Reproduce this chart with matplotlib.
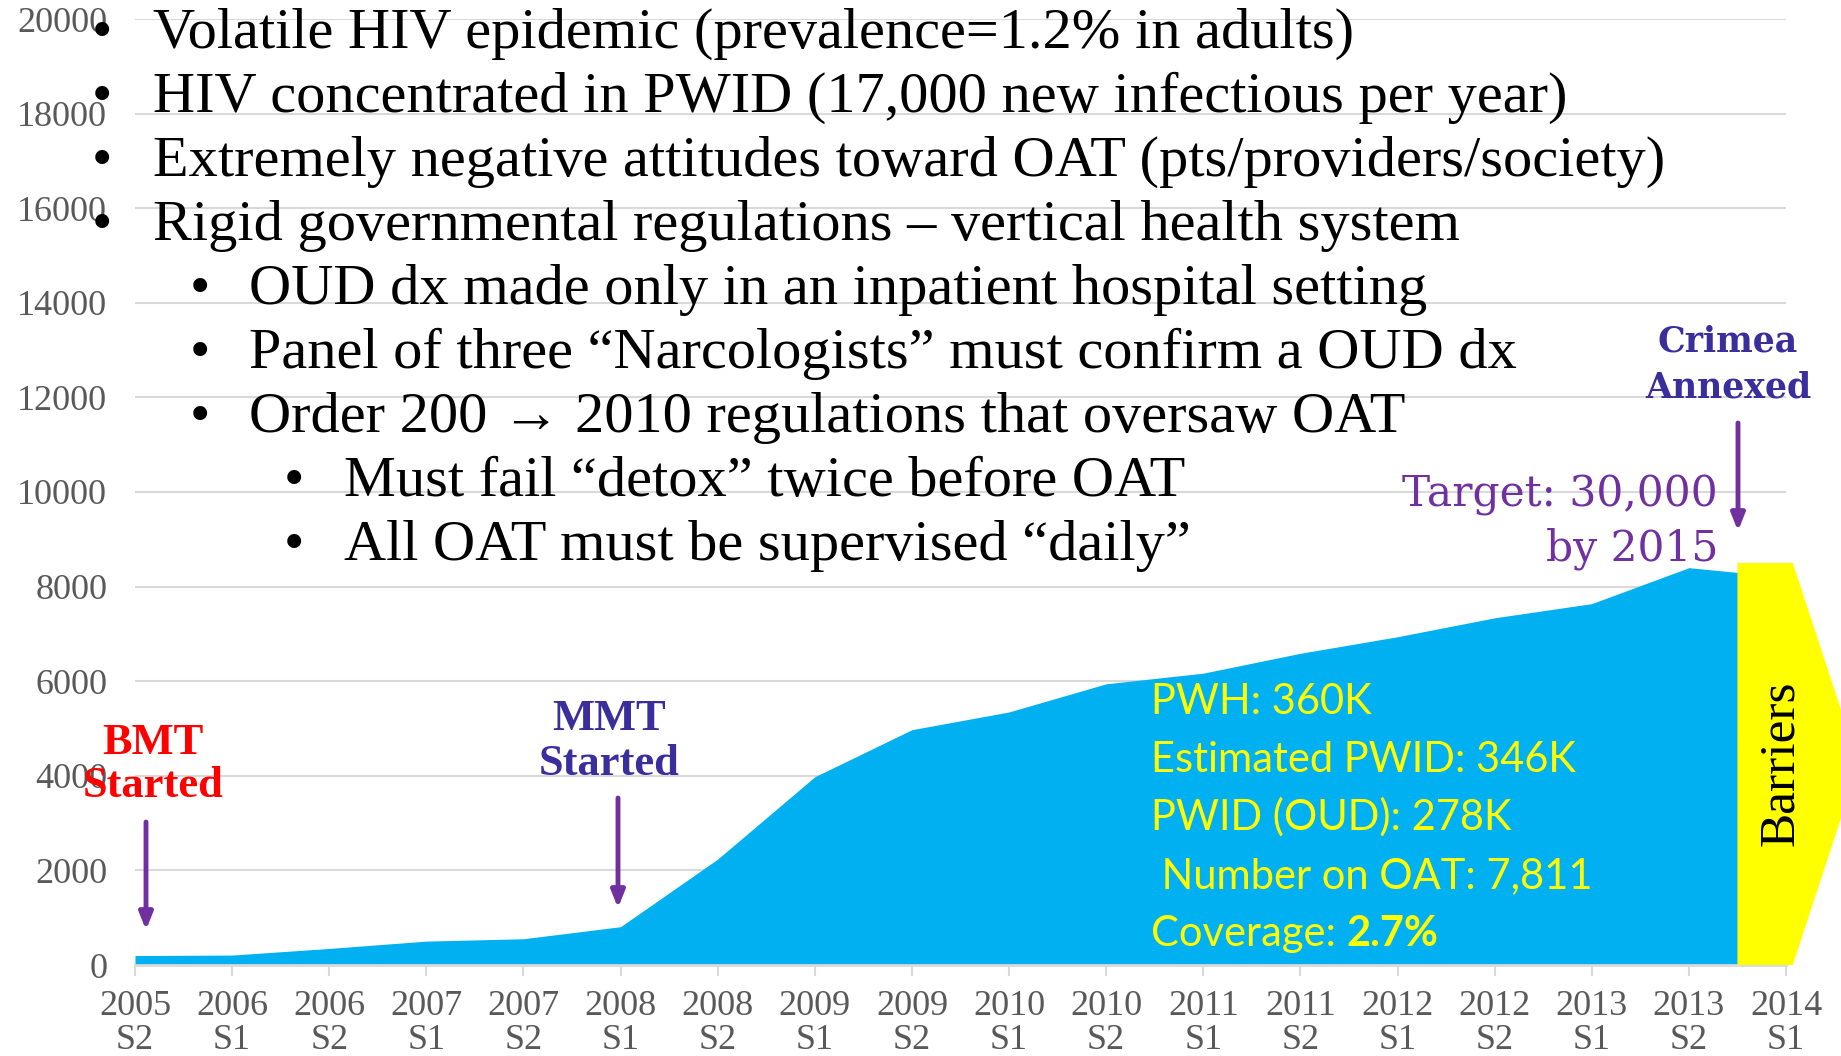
import numpy as np
import matplotlib
matplotlib.use("Agg")
import matplotlib.pyplot as plt

# number of patients on OAT, half-yearly
years = ["2005", "2006", "2006", "2007", "2007", "2008", "2008", "2009", "2009",
         "2010", "2010", "2011", "2011", "2012", "2012", "2013", "2013", "2014"]
halves = ["S2", "S1", "S2", "S1", "S2", "S1", "S2", "S1", "S2",
          "S1", "S2", "S1", "S2", "S1", "S2", "S1", "S2", "S1"]
num_on_oat = [200, 210, 350, 505, 555, 810, 2240, 3980, 4975,
              5350, 5945, 6170, 6590, 6940, 7340, 7640, 8400, 8200]

bullets = [
    (0, "Volatile HIV epidemic (prevalence=1.2% in adults)"),
    (0, "HIV concentrated in PWID (17,000 new infectious per year)"),
    (0, "Extremely negative attitudes toward OAT (pts/providers/society)"),
    (0, "Rigid governmental regulations \u2013 vertical health system"),
    (1, "OUD dx made only in an inpatient hospital setting"),
    (1, "Panel of three \u201cNarcologists\u201d must confirm a OUD dx"),
    (1, "Order 200 \u2192 2010 regulations that oversaw OAT"),
    (2, "Must fail \u201cdetox\u201d twice before OAT"),
    (2, "All OAT must be supervised \u201cdaily\u201d"),
]
stats = ["PWH: 360K", "Estimated PWID: 346K", "PWID (OUD): 278K",
         " Number on OAT: 7,811"]

W, H = 1841, 1056
SERIF = ["Liberation Serif", "DejaVu Serif"]
PURPLE = "#7030A0"
INDIGO = "#3A2D9C"


def fpos(x, y):
    # pixel position (from top-left) -> figure fraction
    return x / W, 1 - y / H


fig = plt.figure(figsize=(W / 100, H / 100), dpi=100)
ax = fig.add_axes([135 / W, (H - 965) / H, (1786 - 135) / W, (965 - 19) / H])

x = np.arange(len(num_on_oat))
ax.fill_between(x, 0, num_on_oat, color="#00B0F0", lw=0, zorder=2)
ax.set_xlim(0, len(x) - 1)
ax.set_ylim(0, 20000)
ax.set_yticks(range(0, 20001, 2000))
ax.set_xticks(x)
ax.set_xticklabels([yr + "\n" + h for yr, h in zip(years, halves)],
                   family=SERIF, linespacing=1.05)
for lab in ax.get_yticklabels():
    lab.set_family(SERIF)
ax.yaxis.grid(True, color="#D9D9D9", lw=1.5, zorder=0)
ax.set_axisbelow(True)
for side in ["top", "left", "right"]:
    ax.spines[side].set_visible(False)
ax.spines["bottom"].set_color("#D9D9D9")
ax.spines["bottom"].set_linewidth(2)
ax.tick_params(axis="y", length=0, pad=20, labelsize=26, labelcolor="#595959")
ax.tick_params(axis="x", length=8, width=1.5, color="#D9D9D9", pad=10,
               labelsize=26, labelcolor="#595959")

# yellow "Barriers" arrow block over the last half-year
ax.fill([16.5, 16.5, 17.07, 17.75, 17.07], [0, 8500, 8500, 4250, 0],
        color="#FFFF00", lw=0, zorder=4, clip_on=False)
ax.set_xlim(0, len(x) - 1)
fig.text(*fpos(1781, 763), "Barriers", rotation=90, ha="center", va="center",
         family=SERIF, fontsize=37, color="black")

# bullet text
bullet_x = [102, 200, 294]
text_x = [153, 249, 344]
for i, (lvl, line) in enumerate(bullets):
    base = 48 + 64 * i
    fig.text(*fpos(bullet_x[lvl], base), "\u2022", ha="center", va="baseline",
             family=SERIF, fontsize=42)
    fig.text(*fpos(text_x[lvl], base), line, ha="left", va="baseline",
             family=SERIF, fontsize=42)

# stats in yellow
for i, s in enumerate(stats):
    fig.text(*fpos(1151, 714 + 58 * i), s, ha="left", va="baseline",
             family="Lato", fontsize=30, color="#FFFF00")
cov = fig.text(*fpos(1151, 946), "Coverage: ", ha="left", va="baseline",
               family="Lato", fontsize=30, color="#FFFF00")
ax.annotate("2.7%", xy=(1, 0), xycoords=cov, ha="left", va="bottom",
            family="Lato", fontsize=30, fontweight="bold", color="#FFFF00")

# event labels
fig.text(*fpos(153, 754), "BMT", ha="center", va="baseline", family=SERIF,
         fontsize=32, fontweight="bold", color="#FF0000")
fig.text(*fpos(153, 797), "Started", ha="center", va="baseline", family=SERIF,
         fontsize=32, fontweight="bold", color="#FF0000")
fig.text(*fpos(609, 730), "MMT", ha="center", va="baseline", family=SERIF,
         fontsize=32, fontweight="bold", color=INDIGO)
fig.text(*fpos(609, 775), "Started", ha="center", va="baseline", family=SERIF,
         fontsize=32, fontweight="bold", color=INDIGO)
fig.text(*fpos(1728, 352), "Crimea", ha="center", va="baseline",
         family="DejaVu Serif", fontsize=25, fontweight="bold", color=INDIGO)
fig.text(*fpos(1728, 397), "Annexed", ha="center", va="baseline",
         family="DejaVu Serif", fontsize=25, fontweight="bold", color=INDIGO)
fig.text(*fpos(1718, 507), "Target: 30,000", ha="right", va="baseline",
         family="DejaVu Serif", fontsize=30.5, color=PURPLE)
fig.text(*fpos(1718, 561), "by 2015", ha="right", va="baseline",
         family="DejaVu Serif", fontsize=30.5, color=PURPLE)

# purple arrows
for arr_x, y0, y1 in [(146, 822, 930), (618, 798, 908), (1738, 423, 531)]:
    ax.annotate("", xy=(arr_x, H - y1), xycoords="figure pixels",
                xytext=(arr_x, H - y0), textcoords="figure pixels",
                arrowprops=dict(arrowstyle="-|>,head_width=0.4,head_length=1.0",
                                color=PURPLE, lw=3.5, shrinkA=0, shrinkB=0))

fig.savefig("out.png", dpi=100)
